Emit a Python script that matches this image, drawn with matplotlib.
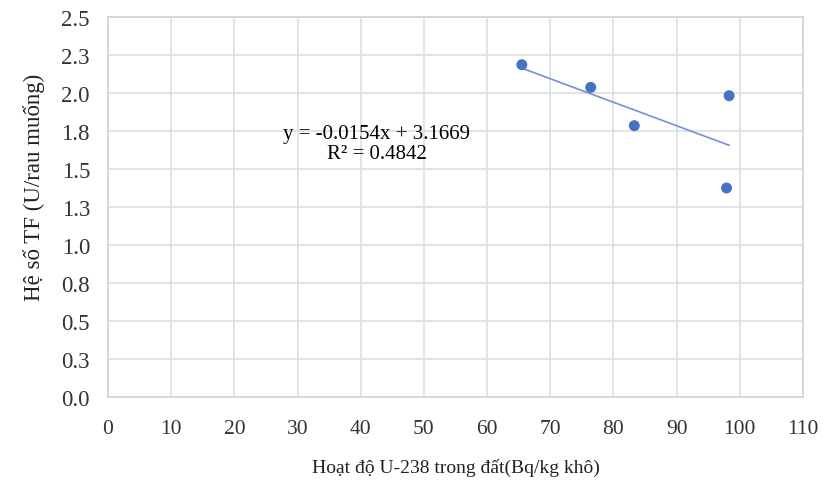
import numpy as np
import matplotlib
matplotlib.use("Agg")
import matplotlib.pyplot as plt

# Data
u238_soil = [65.5, 76.4, 83.3, 98.3, 97.9]
tf_values = [2.186, 2.037, 1.785, 1.982, 1.375]
x_ticks = [0, 10, 20, 30, 40, 50, 60, 70, 80, 90, 100, 110]
y_ticks = [0.0, 0.25, 0.5, 0.75, 1.0, 1.25, 1.5, 1.75, 2.0, 2.25, 2.5]
y_tick_labels = ["0.0", "0.3", "0.5", "0.8", "1.0", "1.3", "1.5", "1.8", "2.0", "2.3", "2.5"]
eq_text = "y = -0.0154x + 3.1669\nR² = 0.4842"

plt.rcParams['font.family'] = ['Liberation Serif', 'DejaVu Serif']

fig = plt.figure(figsize=(8.23, 4.85), dpi=100)
ax = fig.add_axes([0.1312, 0.1794, 0.8445, 0.7835])

blue = "#4472C4"
ax.scatter(u238_soil, tf_values, s=62, color=blue, zorder=3, edgecolors='none')

# linear trendline
xs = np.array(u238_soil)
coef = np.polyfit(xs, tf_values, 1)
xl = np.array([xs.min(), xs.max()])
ax.plot(xl, np.polyval(coef, xl), color="#6f93d6", lw=1.2, zorder=2)

ax.text(42.5, 1.67, eq_text, ha='center', va='center', fontsize=15, linespacing=1.05)

ax.set_xlim(0, 110)
ax.set_ylim(0, 2.5)
ax.set_xticks(x_ticks)
ax.set_yticks(y_ticks)
ax.set_yticklabels(y_tick_labels)
ax.tick_params(length=0, colors="#333333")
ax.tick_params(axis='x', pad=16, labelsize=15.5)
ax.tick_params(axis='y', pad=13, labelsize=16.5)
ax.grid(True, color="#dcdfe3", lw=1.2)
ax.set_axisbelow(True)
for s in ax.spines.values():
    s.set_color("#d0d4d9")
    s.set_linewidth(1.2)

ax.set_xlabel("Hoạt độ U-238 trong đất(Bq/kg khô)", fontsize=14, labelpad=14, color="#222222")
ax.set_ylabel("Hệ số TF (U/rau muống)", fontsize=16.5, color="#222222")
ax.yaxis.set_label_coords(-0.0906, 0.553)

fig.savefig("out.png", dpi=100)
